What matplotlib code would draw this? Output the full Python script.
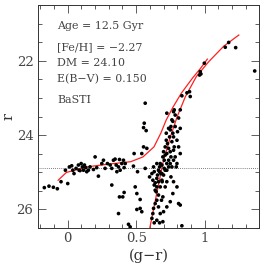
import matplotlib
matplotlib.use("Agg")
import matplotlib.pyplot as plt
from matplotlib.ticker import MultipleLocator

# isochrone: horizontal branch joined to the AGB
hb_gr = [-0.07, -0.01, 0.14, 0.31, 0.46, 0.55, 0.63, 0.68, 0.72, 0.77, 0.83, 0.91, 0.97, 1.02]
hb_r = [25.22, 25.01, 24.86, 24.78, 24.72, 24.59, 24.32, 23.95, 23.59, 23.24, 22.87, 22.47, 22.2, 21.95]

# isochrone: main sequence / red giant branch
rgb_gr = [0.60, 0.65, 0.70, 0.75, 0.80, 0.86, 0.94, 1.03, 1.14, 1.25]
rgb_r = [26.5, 25.58, 24.68, 24.05, 23.5, 22.96, 22.42, 22.02, 21.6, 21.3]

# observed stars
star_gr = [
    -0.171, -0.137, -0.105, -0.076, -0.049, -0.017, 0.0, 0.012, 0.029, 0.037,
    0.046, 0.061, 0.078, 0.083, 0.090, 0.098, 0.107, 0.115, 0.122, 0.132,
    0.139, 0.151, 0.163, 0.188, 0.212, 0.200, 0.224, 0.249, 0.261, 0.273,
    0.290, 0.310, 0.322, 0.334, 0.346, 0.354, 0.359, 0.371, 0.378, 0.383,
    0.395, 0.407, 0.412, 0.420, 0.480, 0.485, 0.510, 0.322, 0.378, 0.402,
    0.412, 0.371, 0.444, 0.456, 0.505, 0.529, 0.541, 0.493, 0.505, 0.529,
    0.566, 0.541, 0.554, 0.554, 0.559, 0.573, 0.566, 0.578,
    0.598, 0.615, 0.622, 0.627, 0.632, 0.639, 0.646, 0.651, 0.656, 0.663,
    0.671, 0.676, 0.680, 0.688, 0.695, 0.700, 0.705, 0.712, 0.720, 0.724,
    0.729, 0.737, 0.744, 0.749, 0.754, 0.761, 0.768, 0.773, 0.778, 0.785,
    0.793, 0.754, 0.737, 0.724, 0.712, 0.700, 0.690, 0.676, 0.663, 0.651,
    0.639, 0.627, 0.622, 0.615, 0.632, 0.651, 0.676, 0.700, 0.724, 0.749,
    0.768, 0.798, 0.810, 0.822, 0.773, 0.754, 0.724, 0.712, 0.695, 0.685,
    0.663, 0.671, 0.695, 0.834, 0.822, 0.810, 0.798, 0.822, 0.802, 0.785,
    0.773, 0.761, 0.737, 0.712, 0.688, 0.671, 0.651, 0.639, 0.651, 0.632,
    0.663, 0.688, 0.705, 0.724, 0.749, 0.761, 0.773, 0.798, 0.773, 0.749,
    0.720, 0.737, 0.768, 0.785, 0.778, 0.724, 0.810, 0.822,
    0.834, 0.871, 0.890, 0.895, 0.968, 0.963, 0.973, 0.998, 1.151, 1.176,
    1.227, 1.366,
]
star_r = [
    25.42, 25.38, 25.41, 25.45, 25.26, 24.95, 25.31, 24.86, 24.83, 24.95,
    25.04, 24.90, 24.81, 24.95, 24.96, 24.77, 24.86, 24.95, 24.81, 24.88,
    24.99, 24.95, 24.86, 24.93, 24.88, 24.59, 25.11, 24.77, 24.68, 24.90,
    24.77, 24.81, 24.90, 24.68, 24.65, 24.81, 24.99, 24.86, 24.66, 24.95,
    24.77, 24.68, 24.88, 24.77, 24.84, 24.50, 24.99, 25.35, 25.67, 25.67,
    25.55, 26.12, 26.41, 26.48, 26.01, 25.98, 26.07, 25.40, 25.58, 25.74,
    24.90, 24.50, 24.32, 23.80, 23.68, 23.88, 23.14, 24.36,
    25.13, 25.04, 25.22, 24.86, 25.35, 25.49, 25.53, 25.40, 25.08, 24.95,
    24.86, 24.77, 25.04, 25.22, 24.59, 24.45, 24.68, 24.32, 24.14, 24.50,
    24.23, 24.86, 24.05, 23.86, 23.77, 23.59, 23.95, 23.37, 24.32, 24.59,
    24.86, 24.59, 24.68, 24.77, 24.95, 25.08, 25.26, 25.40, 25.62, 25.76,
    25.85, 25.98, 26.12, 26.25, 26.37, 26.30, 26.12, 26.07, 25.94, 25.80,
    25.58, 25.40, 25.85, 25.89, 25.26, 25.13, 25.26, 25.40, 25.67, 25.76,
    25.94, 26.37, 26.34, 26.45, 24.50, 24.32, 24.14, 23.82, 23.91, 23.77,
    24.05, 24.18, 24.36, 24.54, 24.81, 24.99, 25.17, 25.29, 24.77, 24.99,
    25.26, 25.04, 24.90, 24.95, 24.77, 24.86, 24.68, 24.77, 24.41, 24.45,
    23.95, 23.82, 23.63, 23.46, 23.32, 23.41, 23.54, 23.32,
    22.94, 22.86, 22.83, 22.96, 22.29, 22.38, 22.35, 22.06, 21.63, 21.50,
    21.64, 22.27,
]

hb_level = 24.9

labels = ["Age = 12.5 Gyr", "[Fe/H] = \u22122.27", "DM = 24.10", "E(B\u2212V) = 0.150", "BaSTI"]
label_y = [0.906, 0.812, 0.741, 0.666, 0.573]

plt.rcParams["font.family"] = ["DejaVu Serif"]

fig = plt.figure(figsize=(2.66, 2.65), dpi=100)
ax = fig.add_axes([0.144, 0.141, 0.831, 0.840])

ax.axhline(hb_level, color="#555555", lw=0.6, ls=(0, (1, 1.5)))
ax.scatter(star_gr, star_r, s=7, color="black", edgecolors="none", zorder=3)
ax.plot(hb_gr, hb_r, color="#ff2020", lw=0.9, zorder=2)
ax.plot(rgb_gr, rgb_r, color="#ff2020", lw=0.9, zorder=2)

ax.set_xlim(-0.215, 1.40)
ax.set_ylim(26.5, 20.49)

ax.xaxis.set_major_locator(MultipleLocator(0.5))
ax.xaxis.set_minor_locator(MultipleLocator(0.1))
ax.yaxis.set_major_locator(MultipleLocator(2))
ax.yaxis.set_minor_locator(MultipleLocator(0.5))
ax.xaxis.set_major_formatter(plt.FuncFormatter(lambda v, p: "%g" % v))
ax.tick_params(which="both", direction="in", top=True, right=True,
               labelsize=9.5, colors="#444444", width=0.6)
ax.tick_params(which="major", length=6)
ax.tick_params(which="minor", length=3)
for s in ax.spines.values():
    s.set_linewidth(0.7)
    s.set_color("#333333")

ax.set_xlabel("(g\u2212r)", fontsize=10.5, labelpad=2, color="#333333")
ax.set_ylabel("r", fontsize=10.5, labelpad=1, color="#333333")

for t, yy in zip(labels, label_y):
    ax.text(0.085, yy, t, transform=ax.transAxes, fontsize=7.9,
            va="center", ha="left", color="#444444")

fig.savefig("out.png", dpi=100)
